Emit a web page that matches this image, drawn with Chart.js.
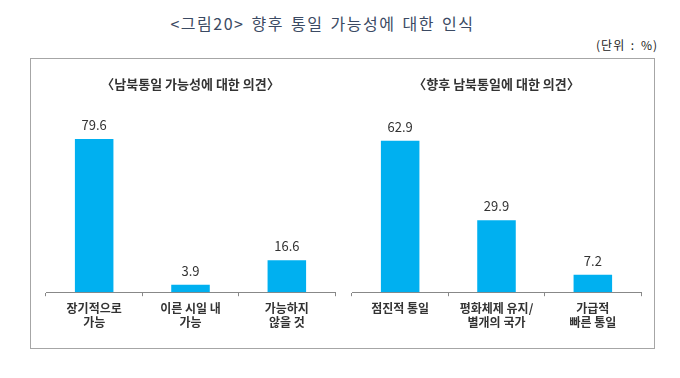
<!DOCTYPE html>
<html><head><meta charset="utf-8">
<script src="https://cdn.jsdelivr.net/npm/chart.js@4"></script>
<style>
html,body{margin:0;padding:0;background:#fff;}
#page{position:relative;width:680px;height:378px;overflow:hidden;font-family:"Noto Sans CJK KR","Noto Sans",sans-serif;}
#title{position:absolute;left:0;width:645px;top:11px;text-align:center;font-size:16px;color:#3b4a63;letter-spacing:1.5px;word-spacing:2px;}
#unit{position:absolute;right:22px;top:36px;font-size:12px;color:#222;letter-spacing:1px;word-spacing:2px;}
#box{position:absolute;left:30px;top:58px;width:625px;height:291px;border:1px solid #a6a6a6;box-sizing:border-box;}
canvas{position:absolute;}
</style></head>
<body><div id="page">
<div id="title">&lt;그림20&gt; 향후 통일 가능성에 대한 인식</div>
<div id="unit">(단위 : %)</div>
<div id="box"></div>
<div id="c1w" style="position:absolute;left:36px;top:60px;width:310px;height:285px;"><canvas id="c1"></canvas></div>
<div id="c2w" style="position:absolute;left:342px;top:60px;width:310px;height:285px;"><canvas id="c2"></canvas></div>
</div>
<script>
const leftTitle = "〈남북통일 가능성에 대한 의견〉";
const leftCategories = [["장기적으로","가능"],["이른 시일 내","가능"],["가능하지","않을 것"]];
const leftValues = [79.6, 3.9, 16.6];
const leftMax = 100;

const rightTitle = "〈향후 남북통일에 대한 의견〉";
const rightCategories = [["점진적 통일"],["평화체제 유지/","별개의 국가"],["가급적","빠른 통일"]];
const rightValues = [62.9, 29.9, 7.2];
const rightMax = 80;

const FONT = '"Noto Sans CJK KR","Noto Sans",sans-serif';

const valueLabels = {
  id:'valueLabels',
  afterDatasetsDraw(chart){
    const ctx = chart.ctx;
    const meta = chart.getDatasetMeta(0);
    ctx.save();
    ctx.font = '13px ' + FONT;
    ctx.fillStyle = '#333';
    ctx.textAlign = 'center';
    ctx.textBaseline = 'middle';
    meta.data.forEach((bar,i)=>{
      const v = chart.data.datasets[0].data[i];
      ctx.fillText(v.toFixed(1), bar.x, bar.y - 14);
    });
    ctx.restore();
  }
};

function makeChart(id, title, cats, vals, max, pad){
  return new Chart(document.getElementById(id), {
    type:'bar',
    data:{labels:cats, datasets:[{data:vals, backgroundColor:'#00b0f0', barPercentage:0.8, categoryPercentage:0.5}]},
    options:{
      responsive:true, maintainAspectRatio:false, animation:false, devicePixelRatio:1,
      layout:{padding:pad},
      plugins:{
        legend:{display:false}, tooltip:{enabled:false},
        title:{display:true, text:title, color:'#333', font:{family:FONT, size:13, weight:'bold'}, padding:{top:16,bottom:8}}
      },
      scales:{
        x:{
          grid:{display:true, drawOnChartArea:false, drawTicks:true, tickLength:4, color:'#888', offset:true},
          border:{display:true, color:'#888', width:1},
          ticks:{color:'#333', padding:5, font:{family:FONT, size:12, weight:'bold', lineHeight:1.2}, maxRotation:0, autoSkip:false}
        },
        y:{display:false, min:0, max:max}
      }
    },
    plugins:[valueLabels]
  });
}
const c1 = makeChart('c1', leftTitle, leftCategories, leftValues, leftMax, {left:10, right:11, top:0, bottom:10});
const c2 = makeChart('c2', rightTitle, rightCategories, rightValues, rightMax, {left:10, right:11, top:0, bottom:10});
</script>
</body></html>
